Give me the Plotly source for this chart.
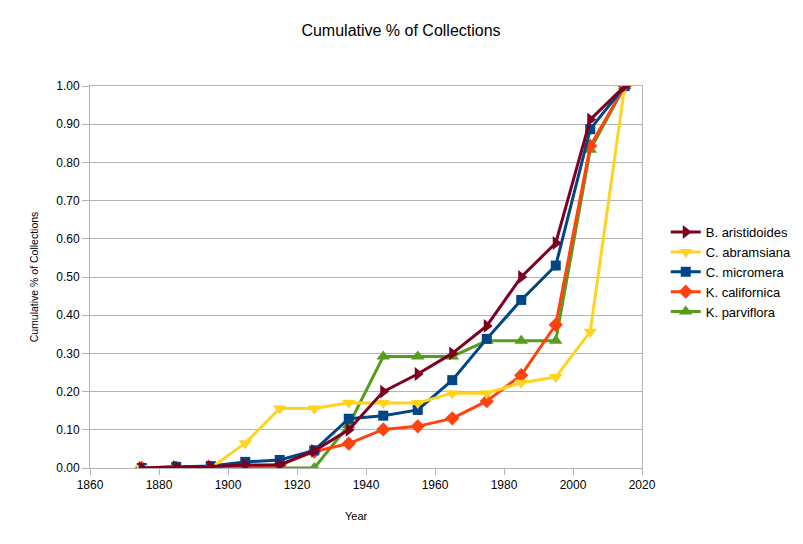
import plotly.graph_objects as go

years = [1875, 1885, 1895, 1905, 1915, 1925, 1935, 1945, 1955, 1965, 1975, 1985, 1995, 2005, 2015]

b_aristidoides = [0.0, 0.003, 0.004, 0.008, 0.008, 0.045, 0.10, 0.20, 0.246, 0.30, 0.372, 0.50, 0.589, 0.912, 1.0]
c_abramsiana = [0.0, 0.0, 0.0, 0.065, 0.156, 0.156, 0.171, 0.170, 0.170, 0.196, 0.196, 0.223, 0.238, 0.357, 1.0]
c_micromera = [0.0, 0.003, 0.005, 0.016, 0.021, 0.046, 0.129, 0.137, 0.152, 0.23, 0.338, 0.44, 0.53, 0.887, 1.0]
k_californica = [0.0, 0.0, 0.0, 0.005, 0.008, 0.043, 0.064, 0.101, 0.109, 0.13, 0.175, 0.243, 0.375, 0.843, 1.0]
k_parviflora = [0.0, 0.0, 0.0, 0.0, 0.0, 0.0, 0.112, 0.292, 0.292, 0.292, 0.333, 0.333, 0.333, 0.833, 1.0]

names = ["B. aristidoides", "C. abramsiana", "C. micromera", "K. californica", "K. parviflora"]
series = [b_aristidoides, c_abramsiana, c_micromera, k_californica, k_parviflora]
colors = ["#7e0021", "#ffd320", "#004586", "#ff420e", "#579d1c"]
symbols = ["triangle-right", "triangle-down", "square", "diamond", "triangle-up"]
msizes = [12, 12, 10, 11, 12]

fig = go.Figure()
# draw in reverse so the first series sits on top, keep legend order with legendrank
for i in reversed(range(len(names))):
    fig.add_trace(go.Scatter(
        x=years, y=series[i], name=names[i], mode="lines+markers",
        line=dict(color=colors[i], width=3),
        marker=dict(symbol=symbols[i], size=msizes[i], color=colors[i]),
        legendrank=i + 1,
    ))

# page body has an 8px margin, so everything is set 8px up/left
axis_col = "#b3b3b3"
fig.update_layout(
    width=803, height=544,
    margin=dict(l=82, r=169, t=78, b=84, autoexpand=False),
    paper_bgcolor="white", plot_bgcolor="white",
    font=dict(family="Liberation Sans, Arial, sans-serif", size=12, color="black"),
    title=dict(text="Cumulative % of Collections", x=393 / 803, xanchor="center",
               y=1 - 22 / 544, yanchor="middle", font=dict(size=16)),
    legend=dict(x=1.043, xanchor="left", y=0.513, yanchor="middle",
                font=dict(size=13), tracegroupgap=0, itemwidth=30),
    showlegend=True,
    annotations=[dict(text="Year", xref="paper", yref="paper", x=0.482, y=-0.125,
                      xanchor="center", yanchor="middle", showarrow=False,
                      font=dict(size=11))],
)
fig.update_xaxes(
    range=[1860, 2020], dtick=20, tick0=1860, automargin=False,
    showgrid=False, showline=True, linecolor=axis_col, linewidth=1, mirror=True,
    ticks="outside", ticklen=6, tickcolor=axis_col, zeroline=False,
)
fig.update_yaxes(
    range=[0, 1], dtick=0.1, tickformat=".2f", automargin=False,
    showgrid=True, gridcolor=axis_col, gridwidth=1,
    showline=True, linecolor=axis_col, linewidth=1, mirror=True,
    ticks="outside", ticklen=7, tickcolor=axis_col, ticklabelstandoff=0,
    title=dict(text="Cumulative % of Collections", standoff=15, font=dict(size=10.5)),
    zeroline=False,
)

fig.write_html("out.html")
